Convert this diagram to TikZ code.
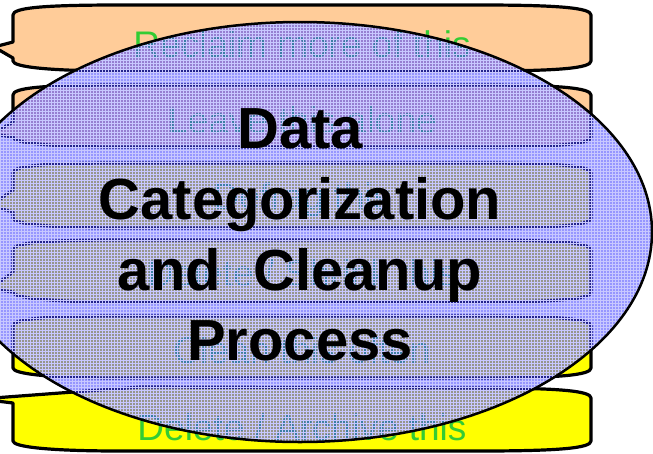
\documentclass[tikz,border=0pt]{standalone}
\usepackage{fontspec}
\setmainfont{Liberation Sans}
\usetikzlibrary{patterns}
\definecolor{bandpeach}{RGB}{255,204,153}
\definecolor{bandyellow}{RGB}{255,255,0}
\definecolor{bandgreen}{RGB}{51,204,51}
\definecolor{ovalblue}{RGB}{64,64,255}
\definecolor{ovalgrid}{RGB}{200,200,255}

% Outline of one band, from the lower left corner round to the upper left corner
\newcommand{\bandbody}[2]{(13,#2-10) .. controls (13,#2-4) and (50,#2) .. (120,#2) -- (480,#2) .. controls (560,#2) and (591,#2-3) .. (591,#2-10) -- (591,#1+10) .. controls (591,#1+3) and (560,#1) .. (480,#1) -- (120,#1) .. controls (40,#1) and (13,#1+3) .. (13,#1+10)}

\begin{document}
\begin{tikzpicture}[x=1pt,y=-1pt,
    band/.style={draw=black, line width=3.2pt, line join=round},
    bandtext/.style={text=bandgreen, font=\fontsize{37}{44}\selectfont, anchor=base, inner sep=0pt},
    titletext/.style={text=black, font=\fontsize{58}{70}\selectfont\bfseries, anchor=base, inner sep=0pt}]
    \clip (0,0) rectangle (653,453);

    % Draw the bands, top to bottom
    \draw[band, fill=bandpeach] \bandbody{5}{71} -- (13,42) -- (-6,47) -- (13,58) -- cycle;
    \draw[band, fill=bandpeach] \bandbody{85}{147} -- (13,122) -- (-8,134) -- (13,137) -- cycle;
    \draw[band, fill=bandyellow] \bandbody{163}{228} -- (13,190) -- (-10,206) -- (13,212) -- cycle;
    \draw[band, fill=bandyellow] \bandbody{240}{302} -- (13,272) -- (-10,289) -- (13,292) -- cycle;
    \draw[band, fill=bandyellow] \bandbody{316}{378} -- cycle;
    % last band has its pointer on the top corner
    \draw[band, fill=bandyellow] (13,441) .. controls (13,447) and (50,451) .. (120,451) -- (480,451)
        .. controls (560,451) and (591,448) .. (591,441) -- (591,398)
        .. controls (591,391) and (560,388) .. (480,388) -- (140,387) -- (-20,399) -- (13,403) -- cycle;

    % Band labels
    \node[bandtext] (reclaim) at (302,57) {Reclaim more of this};
    \node[bandtext] (leave) at (302,133) {Leave this alone};
    \node[bandtext] (defrag) at (302,209) {Defrag this};
    \node[bandtext] (shrink) at (302,286) {Delete / Shrink this};
    \node[bandtext] (clean) at (302,363) {Clean this often};
    \node[bandtext] (archive) at (302,440) {Delete / Archive this};

    % Semi-transparent oval over the bands
    \coordinate (ovalc) at (300,232);
    \fill[ovalblue, fill opacity=0.55] (ovalc) ellipse [x radius=352, y radius=210];
    \fill[pattern=grid, pattern color=ovalgrid, fill opacity=0.2] (ovalc) ellipse [x radius=352, y radius=210];
    \draw[line width=2.5pt] (ovalc) ellipse [x radius=352, y radius=210];

    % Title in the oval
    \foreach \ln/\y [count=\i] in {Data/148, Categorization/219, {and\ \ Cleanup}/290, Process/360}
        \node[titletext] (title\i) at (300,\y) {\ln};
\end{tikzpicture}
\end{document}
